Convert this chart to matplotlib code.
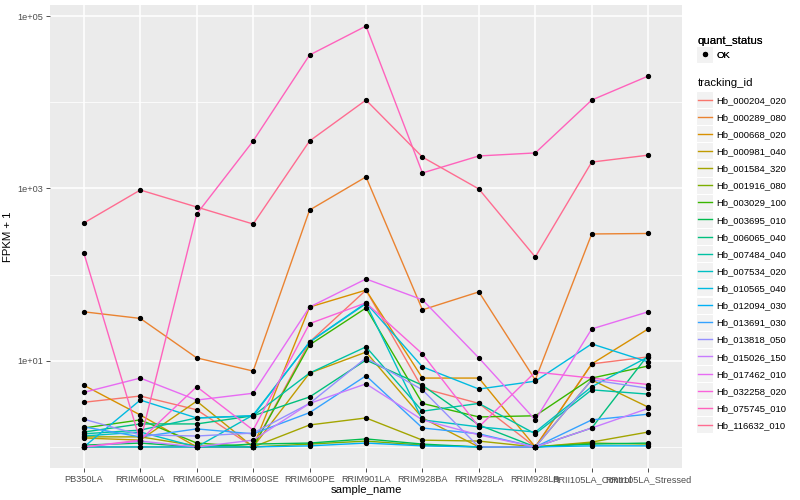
import matplotlib
matplotlib.use("Agg")
import matplotlib.pyplot as plt
from matplotlib.lines import Line2D
from matplotlib.patches import Rectangle

samples = ["PB350LA", "RRIM600LA", "RRIM600LE", "RRIM600SE", "RRIM600PE",
           "RRIM901LA", "RRIM928BA", "RRIM928LA", "RRIM928LB",
           "RRII105LA_Control", "RRII105LA_Stressed"]

tracking_ids = ["Hb_000204_020", "Hb_000289_080", "Hb_000668_020", "Hb_000981_040",
                "Hb_001584_320", "Hb_001916_080", "Hb_003029_100", "Hb_003695_010",
                "Hb_006065_040", "Hb_007484_040", "Hb_007534_020", "Hb_010565_040",
                "Hb_012094_030", "Hb_013691_030", "Hb_013818_050", "Hb_015026_150",
                "Hb_017462_010", "Hb_032258_020", "Hb_075745_010", "Hb_116632_010"]

# ggplot default hue palette, 20 levels
colors = ["#F8766D", "#EA8331", "#D89000", "#C09B00", "#A3A500", "#7CAE00",
          "#39B600", "#00BB4E", "#00BF7D", "#00C1A3", "#00BFC4", "#00BAE0",
          "#00B0F6", "#35A2FF", "#9590FF", "#C77CFF", "#E76BF3", "#FA62DB",
          "#FF62BC", "#FF6C91"]

# FPKM + 1, one list per tracking_id, in sample order
hb_000204 = [3.3, 3.9, 2.7, 1.0, 16.5, 66, 4.8, 3.2, 1.0, 9.2, 11.1]
hb_000289 = [37, 31, 10.8, 7.6, 561, 1360, 39, 63, 6.0, 296, 300]
hb_000668 = [5.2, 2.35, 1.0, 1.0, 42, 66, 6.3, 6.3, 1.0, 9.2, 23.4]
hb_000981 = [1.27, 1.2, 3.4, 1.0, 7.2, 12.6, 2.17, 1.0, 1.0, 6.0, 2.9]
hb_001584 = [1.31, 1.31, 1.03, 1.0, 1.8, 2.17, 1.2, 1.17, 1.0, 1.14, 1.49]
hb_001916 = [1.0, 1.0, 1.0, 1.0, 1.08, 1.17, 1.05, 1.0, 1.0, 1.11, 1.08]
hb_003029 = [1.66, 2.06, 1.11, 1.0, 15.3, 41, 3.2, 2.23, 2.3, 6.3, 8.7]
hb_003695 = [1.05, 1.11, 1.0, 1.08, 1.11, 1.24, 1.08, 1.0, 1.0, 1.08, 1.11]
hb_006065 = [1.49, 1.85, 1.85, 2.3, 3.8, 10.2, 5.2, 1.8, 1.0, 1.66, 11.7]
hb_007484 = [1.42, 1.57, 2.17, 2.3, 7.2, 14.5, 2.6, 3.2, 1.42, 4.6, 4.1]
hb_007534 = [1.34, 1.49, 1.0, 2.35, 16.5, 46, 2.06, 1.71, 1.49, 5.0, 11.1]
hb_010565 = [1.0, 3.5, 2.17, 2.3, 16.5, 47, 8.5, 4.7, 5.8, 15.7, 9.7]
hb_012094 = [1.0, 1.0, 1.0, 1.0, 1.03, 1.11, 1.03, 1.0, 1.0, 1.03, 1.03]
hb_013691 = [1.71, 1.31, 1.62, 1.42, 2.5, 6.7, 1.66, 1.42, 1.0, 2.06, 2.4]
hb_013818 = [2.1, 1.38, 1.34, 1.45, 3.2, 10.8, 4.6, 1.0, 1.0, 6.0, 4.8]
hb_015026 = [1.0, 1.17, 1.0, 1.2, 3.2, 5.4, 2.06, 1.38, 1.0, 1.66, 2.8]
hb_017462 = [4.3, 6.3, 3.5, 4.2, 42, 89, 51, 10.8, 2.06, 23.4, 37]
hb_032258 = [1.0, 1.2, 5.0, 1.57, 27, 47, 12.0, 1.71, 7.4, 6.3, 5.3]
hb_075745 = [178, 1.17, 505, 3550, 35300, 76500, 1510, 2380, 2580, 10600, 20100]
hb_116632 = [397, 958, 608, 386, 3550, 10600, 2310, 985, 160, 2020, 2430]

series = [hb_000204, hb_000289, hb_000668, hb_000981, hb_001584, hb_001916,
          hb_003029, hb_003695, hb_006065, hb_007484, hb_007534, hb_010565,
          hb_012094, hb_013691, hb_013818, hb_015026, hb_017462, hb_032258,
          hb_075745, hb_116632]

plt.rcParams["font.family"] = ["Liberation Sans", "DejaVu Sans"]

fig = plt.figure(figsize=(8, 5), dpi=100)
ax = fig.add_axes([50 / 800, 1 - 468 / 500, (682 - 50) / 800, (468 - 5) / 500])
ax.set_facecolor("#EBEBEB")

x = list(range(len(samples)))
handles = []
for vals, col, tid in zip(series, colors, tracking_ids):
    h, = ax.plot(x, vals, color=col, lw=1.0, zorder=3, label=tid)
    handles.append(h)
for vals in series:
    ax.plot(x, vals, "o", color="black", ms=2.8, zorder=4)

ax.set_yscale("log")
ax.set_ylim(0.570, 134300)
ax.set_xlim(-0.6, len(samples) - 1 + 0.6)
ax.set_xticks(x)
ax.set_xticklabels(samples)
ax.set_yticks([1e1, 1e3, 1e5])
ax.set_yticklabels(["1e+01", "1e+03", "1e+05"])
ax.set_yticks([1e0, 1e2, 1e4], minor=True)
ax.tick_params(axis="y", which="minor", length=0, labelleft=False)
ax.tick_params(which="major", length=3, width=0.6, color="#333333",
               labelsize=6.6, labelcolor="#4D4D4D", pad=2)

ax.grid(which="major", color="white", lw=1.1, zorder=0)
ax.grid(which="minor", axis="y", color="white", lw=0.55, zorder=0)
ax.set_axisbelow(True)
for s in ax.spines.values():
    s.set_visible(False)

ax.set_xlabel("sample_name", fontsize=8.2, labelpad=1)
ax.set_ylabel("FPKM + 1", fontsize=8.2, labelpad=3)

ok_handle = Line2D([], [], marker="o", color="black", ls="none", ms=2.8)
leg1 = fig.legend([ok_handle], ["OK"], title="quant_status", loc="upper left",
                  bbox_to_anchor=(694 / 800, 1 - 32 / 500), frameon=False,
                  fontsize=6.8, title_fontsize=8.2, alignment="left",
                  handlelength=1.5, handletextpad=0.45, borderaxespad=0)
leg2 = fig.legend(handles, tracking_ids, title="tracking_id", loc="upper left",
                  bbox_to_anchor=(694 / 800, 1 - 74 / 500), frameon=False,
                  fontsize=6.8, title_fontsize=8.2, alignment="left",
                  handlelength=1.5, handletextpad=0.45, labelspacing=0.86,
                  borderaxespad=0)
fig.add_artist(leg1)

# grey key boxes behind the legend handles, like ggplot
fig.canvas.draw()
for leg in (leg1, leg2):
    for hd in leg.legend_handles:
        bb = hd.get_window_extent()
        cx, cy = (bb.x0 + bb.x1) / 2, (bb.y0 + bb.y1) / 2
        fig.patches.append(Rectangle((cx - 8.5, cy - 8.5), 17, 17,
                                     transform=None, facecolor="#F2F2F2",
                                     edgecolor="white", lw=0.8, zorder=-1))

fig.savefig("out.png", dpi=100)
